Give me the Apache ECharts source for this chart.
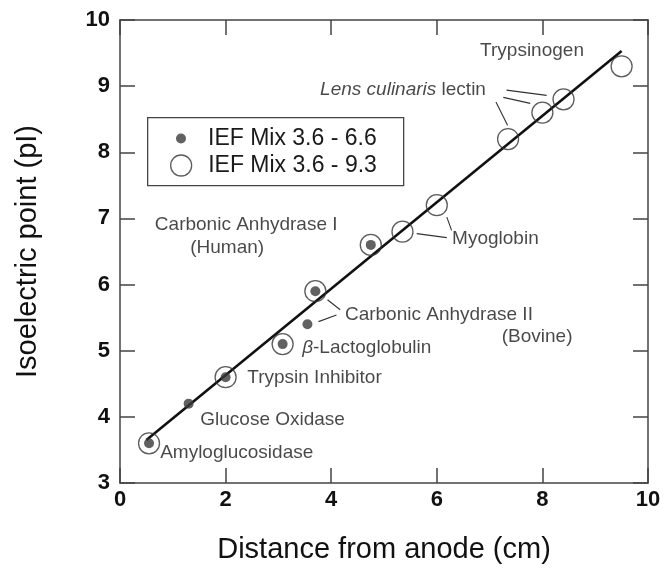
<!DOCTYPE html>
<html>
<head>
<meta charset="utf-8">
<script src="https://cdn.jsdelivr.net/npm/echarts@6/dist/echarts.min.js"></script>
<style>
html,body{margin:0;padding:0;background:#fff;}
#chart{width:666px;height:587px;}
</style>
</head>
<body>
<div id="chart"></div>
<script>
// ---- data ----
var xTicks = [0, 2, 4, 6, 8, 10];
var yTicks = [3, 4, 5, 6, 7, 8, 9, 10];
// IEF Mix 3.6 - 6.6 (filled dots): [distance cm, pI]
var mix66 = [[0.55, 3.6], [1.3, 4.2], [2.0, 4.6], [3.08, 5.1], [3.55, 5.4], [3.7, 5.9], [4.75, 6.6]];
// IEF Mix 3.6 - 9.3 (open circles)
var mix93 = [[0.55, 3.6], [2.0, 4.6], [3.08, 5.1], [3.7, 5.9], [4.75, 6.6], [5.35, 6.8], [6.0, 7.2], [7.35, 8.2], [8.0, 8.6], [8.4, 8.8], [9.5, 9.3]];
// fitted calibration line end points
var fitLine = [[0.5, 3.65], [9.5, 9.53]];
// annotation labels: [x, y, text]
var labels = [
  [6.82, 9.53, 'Trypsinogen'],
  [3.79, 8.95, '{i|Lens culinaris} lectin'],
  [6.29, 6.70, 'Myoglobin'],
  [0.66, 6.90, 'Carbonic Anhydrase I'],
  [1.33, 6.55, '(Human)'],
  [4.26, 5.54, 'Carbonic Anhydrase II'],
  [7.23, 5.21, '(Bovine)'],
  [3.45, 5.05, '{i|\u03b2}-Lactoglobulin'],
  [2.41, 4.59, 'Trypsin Inhibitor'],
  [1.52, 3.95, 'Glucose Oxidase'],
  [0.76, 3.45, 'Amyloglucosidase']
];
// leader lines: [x1, y1, x2, y2]
var leaders = [
  [7.32, 8.94, 8.08, 8.86],
  [7.26, 8.83, 7.77, 8.74],
  [7.12, 8.76, 7.34, 8.41],
  [5.62, 6.77, 6.19, 6.71],
  [6.19, 7.02, 6.28, 6.82],
  [3.93, 5.77, 4.17, 5.62],
  [3.76, 5.44, 4.10, 5.54]
];
var legendNames = ['IEF Mix 3.6 - 6.6', 'IEF Mix 3.6 - 9.3'];

// ---- chart ----
var FONT = '"Liberation Sans", Arial, Helvetica, sans-serif';
var INK = '#1a1a1a';
var AX = '#444';
var chart = echarts.init(document.getElementById('chart'), null, {renderer: 'canvas'});

function axisBase(extra) {
  var o = {
    type: 'value',
    axisLine: {show: true, onZero: false, lineStyle: {color: AX, width: 1.5}},
    axisTick: {show: true, inside: true, length: 15, lineStyle: {color: AX, width: 1.5}},
    splitLine: {show: false},
    axisLabel: {show: true, fontFamily: FONT, fontSize: 22, fontWeight: 'bold', color: '#111'}
  };
  for (var k in extra) o[k] = extra[k];
  return o;
}

var option = {
  animation: false,
  backgroundColor: '#fff',
  grid: {left: 120, top: 20, width: 528, height: 463, containLabel: false},
  xAxis: [
    axisBase({position: 'bottom', min: xTicks[0], max: xTicks[xTicks.length - 1], interval: 2,
      name: 'Distance from anode (cm)', nameLocation: 'middle', nameGap: 52,
      nameTextStyle: {fontFamily: FONT, fontSize: 29, color: '#111'},
      axisLabel: {fontFamily: FONT, fontSize: 22, fontWeight: 'bold', color: '#111', margin: 6}}),
    axisBase({position: 'top', min: xTicks[0], max: xTicks[xTicks.length - 1], interval: 2,
      axisLabel: {show: false}})
  ],
  yAxis: [
    axisBase({position: 'left', min: yTicks[0], max: yTicks[yTicks.length - 1], interval: 1,
      name: 'Isoelectric point (pI)', nameLocation: 'middle', nameGap: 78,
      nameTextStyle: {fontFamily: FONT, fontSize: 29, color: '#111'},
      axisLabel: {fontFamily: FONT, fontSize: 22, fontWeight: 'bold', color: '#111', margin: 10}}),
    axisBase({position: 'right', min: yTicks[0], max: yTicks[yTicks.length - 1], interval: 1,
      axisLabel: {show: false}})
  ],
  legend: [
    {
      data: [legendNames[0]], orient: 'vertical', left: 176, top: 127,
      itemWidth: 44, itemHeight: 10, padding: 0,
      icon: 'circle',
      itemStyle: {color: '#3a3a3a', borderWidth: 0},
      textStyle: {fontFamily: FONT, fontSize: 23, color: INK, padding: [2, 0, 0, 0]},
      selectedMode: false
    },
    {
      data: [legendNames[1]], orient: 'vertical', left: 170, top: 154,
      itemWidth: 44, itemHeight: 21, padding: 0,
      icon: 'circle',
      itemStyle: {color: '#fff', borderColor: '#333', borderWidth: 1.3},
      textStyle: {fontFamily: FONT, fontSize: 23, color: INK, padding: [2, 0, 0, 0]},
      selectedMode: false
    }
  ],
  graphic: [{
    type: 'rect', left: 147, top: 117, z: 0,
    shape: {width: 256, height: 68},
    style: {fill: '#fff', stroke: '#444', lineWidth: 1.3}
  }],
  series: [
    {
      name: 'fit', type: 'line', data: fitLine, symbol: 'none', z: 2,
      lineStyle: {color: '#111', width: 2.6}, silent: true
    },
    {
      name: legendNames[1], type: 'scatter', data: mix93, symbol: 'circle', symbolSize: 21, z: 3,
      itemStyle: {color: 'rgba(255,255,255,0)', borderColor: '#333', borderWidth: 1.3}
    },
    {
      name: legendNames[0], type: 'scatter', data: mix66, symbol: 'circle', symbolSize: 10, z: 4,
      itemStyle: {color: '#3a3a3a'}
    },
    {
      name: 'labels', type: 'scatter', symbolSize: 0, z: 5, silent: true,
      data: labels.map(function (d) { return {value: [d[0], d[1]], text: d[2]}; }),
      label: {
        show: true, position: 'right', distance: 0,
        fontFamily: FONT, fontSize: 19, color: INK,
        formatter: function (p) { return p.data.text; },
        rich: {i: {fontFamily: FONT, fontSize: 19, fontStyle: 'italic', color: INK}}
      },
      markLine: {
        silent: true, symbol: ['none', 'none'],
        lineStyle: {color: '#333', width: 1.1, type: 'solid'},
        label: {show: false},
        data: leaders.map(function (l) { return [{coord: [l[0], l[1]]}, {coord: [l[2], l[3]]}]; })
      }
    }
  ]
};
chart.setOption(option);
</script>
</body>
</html>
